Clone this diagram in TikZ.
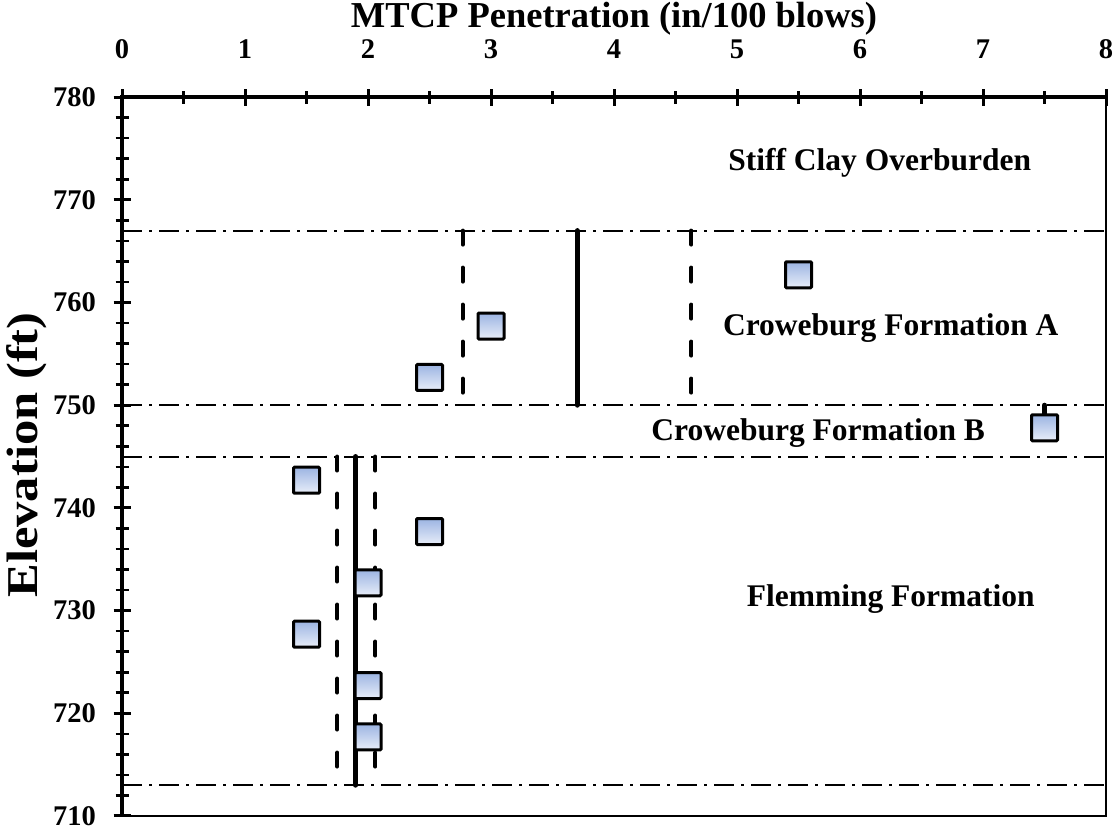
\documentclass[tikz,border=0pt]{standalone}
\usepackage{fontspec}
\setmainfont{Liberation Serif}
\definecolor{mktop}{HTML}{9CB4E2}
\definecolor{mkbot}{HTML}{E8EEF9}
\begin{document}
\begin{tikzpicture}[x=1pt,y=1pt,
  mk/.style={rectangle,draw=black,line width=3pt,minimum size=26pt,inner sep=0pt,
    top color=mktop,bottom color=mkbot,rounded corners=1pt},
  axisline/.style={line width=4.5pt},
  border/.style={line width=1.5pt},
  majtick/.style={line width=3pt},
  mintick/.style={line width=2.6pt},
  layerline/.style={line width=2pt,dash pattern=on 20pt off 7pt on 3pt off 7pt},
  meanline/.style={line width=5pt,line cap=round},
  sdline/.style={line width=4pt,line cap=round,dash pattern=on 14pt off 23pt},
  ticklab/.style={font=\bfseries\fontsize{28.5}{28.5}\selectfont,inner sep=0pt},
  reglab/.style={font=\bfseries\fontsize{31.5}{31.5}\selectfont,inner sep=0pt},
  axlab/.style={font=\bfseries\fontsize{36.5}{36.5}\selectfont,inner sep=0pt},
  ylabstyle/.style={font=\bfseries\fontsize{44}{44}\selectfont,inner sep=0pt}]
\useasboundingbox (0,0) rectangle (1120,830);
\begin{scope}[x=123pt,y=10.27pt,shift={(122pt,-7277.7pt)}]
  % layer boundaries
  \foreach \e in {767,750,745,713} \draw[layerline] (0,\e) -- (8,\e);
  % mean and +/- sd lines
  \draw[sdline] (2.77,767) -- (2.77,750);
  \draw[sdline] (4.63,767) -- (4.63,750);
  \draw[meanline] (3.70,767) -- (3.70,750);
  \draw[sdline] (1.75,745) -- (1.75,713);
  \draw[sdline] (2.06,745) -- (2.06,713);
  \draw[meanline] (1.90,745) -- (1.90,713);
  \draw[meanline] (7.5,750) -- (7.5,747.8);
  % border
  \draw[border] (8,780) -- (8,710) -- (0,710);
  % axes
  \draw[axisline] (0,710) -- (0,780) -- (8,780);
  \foreach \v in {0,...,8} {
    \draw[majtick] (\v,780) ++(0,-8.5pt) -- ++(0,17pt);
    \node[ticklab] (tx\v) at ([yshift=48pt]\v,780) {\v};
  }
  \foreach \v in {0.5,1.5,...,7.5} \draw[mintick] (\v,780) ++(0,-6.5pt) -- ++(0,13pt);
  \foreach \e in {710,720,...,780} {
    \draw[majtick] (0,\e) ++(-8.5pt,0) -- ++(17pt,0);
    \node[ticklab,anchor=east] (ty\e) at ([xshift=-26pt]0,\e) {\e};
  }
  \foreach \e in {712,714,...,778} \draw[mintick] (0,\e) ++(-6.5pt,0) -- ++(13pt,0);
  % data
  \node[mk] (p1) at (5.5,762.7) {};
  \node[mk] (p2) at (3.0,757.7) {};
  \node[mk] (p3) at (2.5,752.7) {};
  \node[mk] (p4) at (7.5,747.8) {};
  \node[mk] (p5) at (1.5,742.7) {};
  \node[mk] (p6) at (2.5,737.7) {};
  \node[mk] (p7) at (2.0,732.7) {};
  \node[mk] (p8) at (1.5,727.7) {};
  \node[mk] (p9) at (2.0,722.7) {};
  \node[mk] (p10) at (2.0,717.7) {};
  % region labels
  \node[reglab] (r1) at (6.16,773.6) {Stiff Clay Overburden};
  \node[reglab] (r2) at (6.25,757.5) {Croweburg Formation A};
  \node[reglab] (r3) at (5.66,747.3) {Croweburg Formation B};
  \node[reglab] (r4) at (6.25,731.1) {Flemming Formation};
\end{scope}
\node[axlab] (title) at (614,811) {MTCP Penetration (in/100 blows)};
\node[ylabstyle,rotate=90,anchor=base] (ylab) at (38,375) {\scalebox{1.15}[1]{Elevation (ft)}};
\end{tikzpicture}
\end{document}
